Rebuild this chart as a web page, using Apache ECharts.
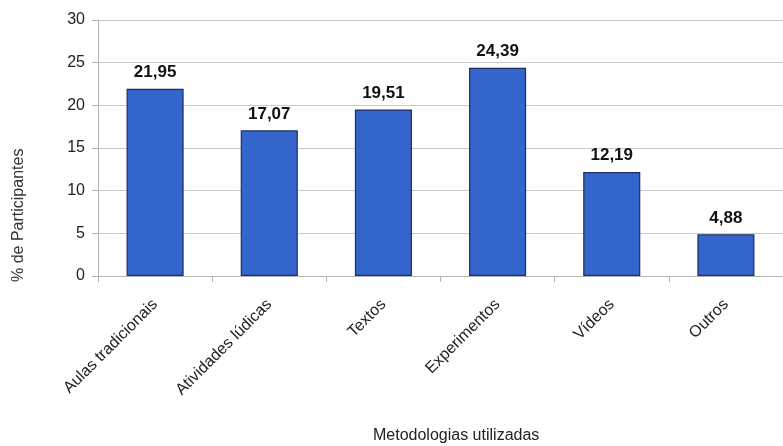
<!DOCTYPE html>
<html><head><meta charset="utf-8">
<script src="https://cdn.jsdelivr.net/npm/echarts@6/dist/echarts.min.js"></script>
<style>html,body{margin:0;padding:0;background:#fff}#c{width:783px;height:446px}</style>
</head><body><div id="c"></div>
<script>
const categories = ["Aulas tradicionais", "Atividades lúdicas", "Textos", "Experimentos", "Vídeos", "Outros"];
const values = [21.95, 17.07, 19.51, 24.39, 12.19, 4.88];
const yTicks = [0, 5, 10, 15, 20, 25, 30];
const xName = 'Metodologias utilizadas';
const yName = '% de Participantes';

const F = 'Liberation Sans, Arial, sans-serif';
const chart = echarts.init(document.getElementById('c'), null, {renderer: 'canvas'});
chart.setOption({
  animation: false,
  backgroundColor: '#fff',
  grid: {left: 98, right: -5, top: 20, bottom: 170},
  graphic: [
    {type: 'text', left: 373, top: 428, style: {text: xName, font: '16px ' + F, fill: '#222'}},
    {type: 'text', rotation: Math.PI / 2, x: 11, y: 282, style: {text: yName, font: '16px ' + F, fill: '#333'}}
  ],
  xAxis: {
    type: 'category', data: categories,
    axisLine: {lineStyle: {color: '#b3b3b3'}},
    axisTick: {show: true, length: 6, lineStyle: {color: '#b3b3b3'}},
    axisLabel: {rotate: 45, fontFamily: F, fontSize: 16, color: '#222', margin: 26}
  },
  yAxis: {
    type: 'value', min: 0, max: 30, interval: 5,
    axisLine: {show: true, lineStyle: {color: '#b3b3b3'}},
    axisTick: {show: true, length: 6, lineStyle: {color: '#b3b3b3'}},
    splitLine: {lineStyle: {color: '#c8c8c8'}},
    axisLabel: {fontFamily: F, fontSize: 16, color: '#222', margin: 13,
      formatter: v => yTicks.includes(v) ? String(v) : ''}
  },
  series: [{
    type: 'bar', data: values, barWidth: '50%',
    itemStyle: {color: '#3465cc', borderColor: '#1c2e63', borderWidth: 1.2},
    label: {show: true, position: 'top', distance: 8, fontFamily: F, fontWeight: 'bold', fontSize: 17, color: '#111',
      formatter: p => p.value.toFixed(2).replace('.', ',')}
  }]
});
</script></body></html>
